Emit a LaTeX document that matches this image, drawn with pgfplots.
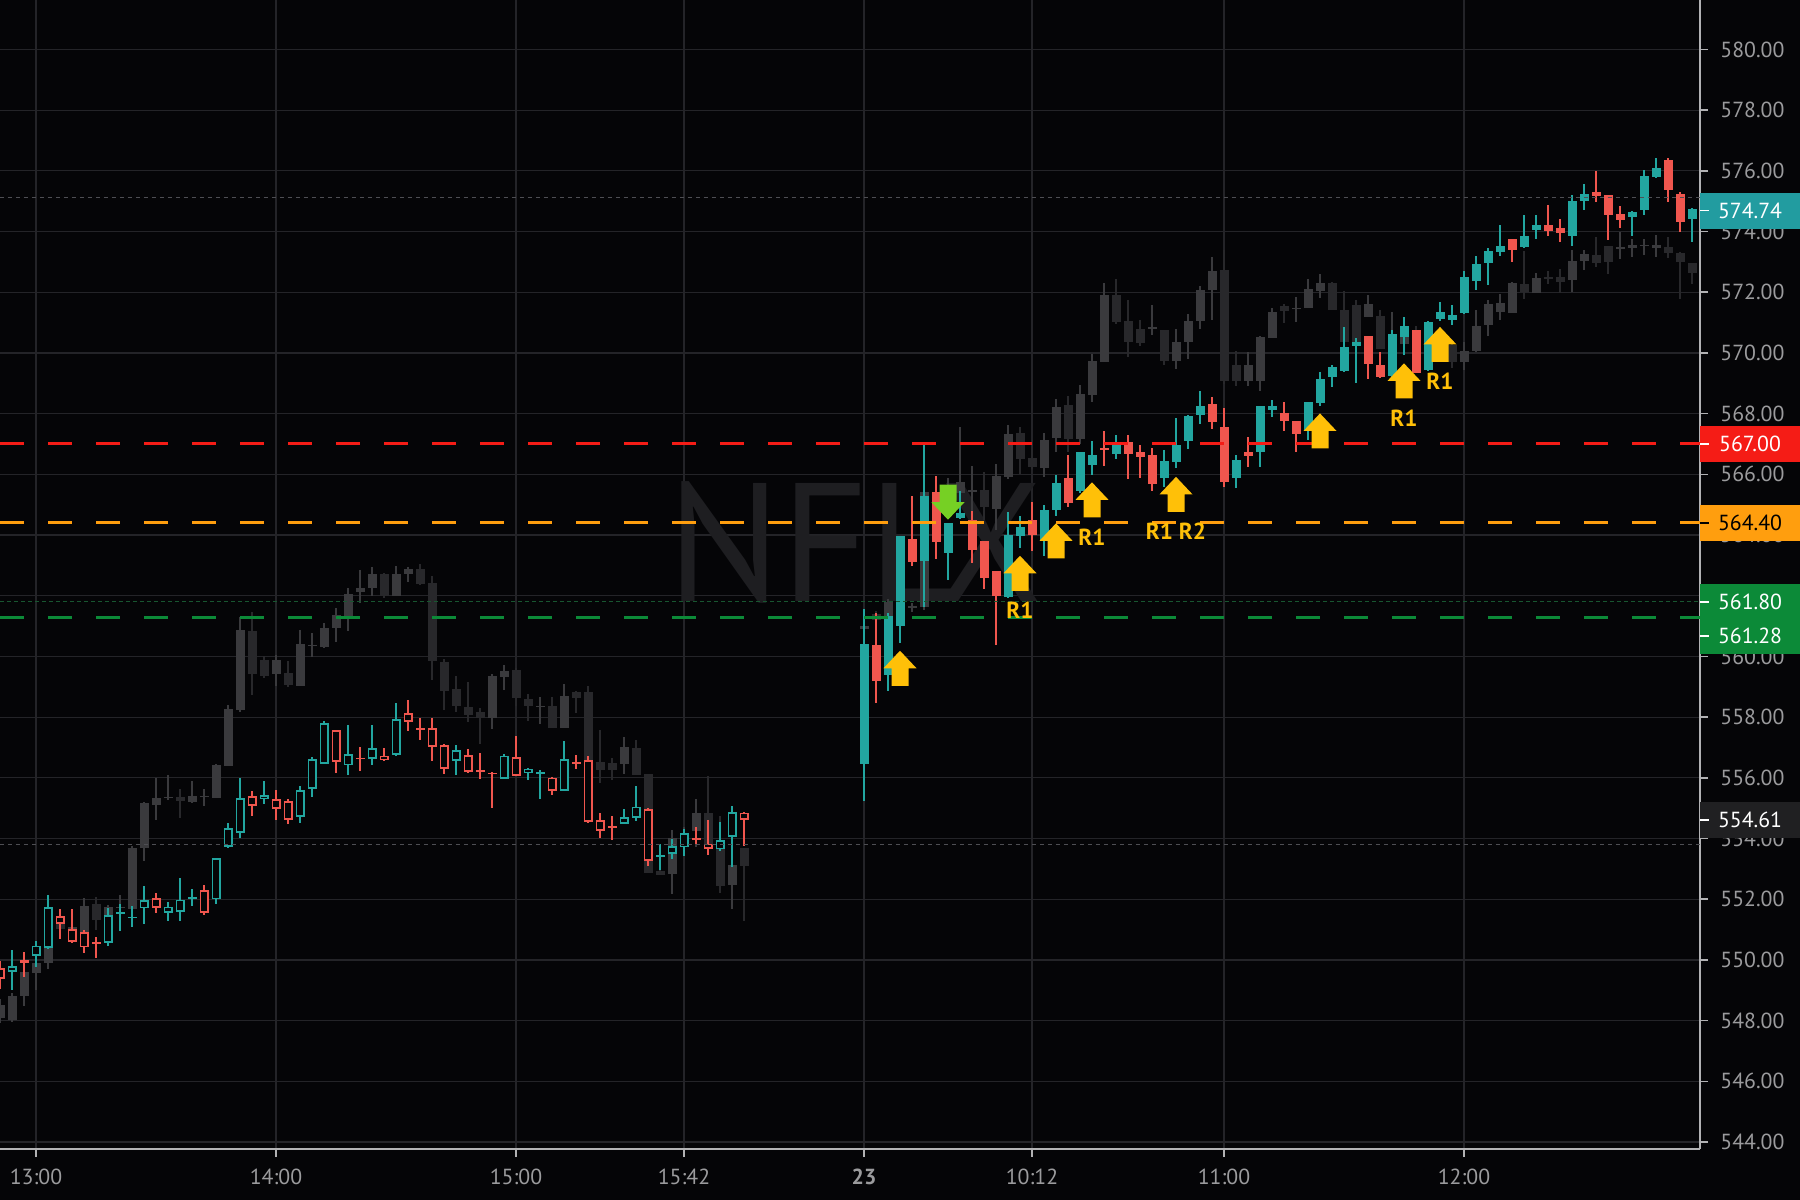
\documentclass[border=0pt]{standalone}
\usepackage{pgfplots}
\usepackage{pgfplotstable}
\usepackage{fontspec}
\pgfplotsset{compat=1.18}
\setmainfont{PT Sans}
\setsansfont{PT Sans}

\definecolor{bg}{RGB}{5,5,7}
\definecolor{gridc}{RGB}{36,36,40}
\definecolor{axc}{RGB}{178,178,180}
\definecolor{tickc}{RGB}{155,155,157}
\definecolor{upc}{RGB}{34,166,160}
\definecolor{dnc}{RGB}{240,86,78}
\definecolor{gup}{RGB}{58,58,61}
\definecolor{gdn}{RGB}{40,40,43}
\definecolor{redl}{RGB}{245,28,22}
\definecolor{orl}{RGB}{255,158,14}
\definecolor{grl}{RGB}{12,138,56}
\definecolor{grdot}{RGB}{24,86,48}
\definecolor{dotc}{RGB}{78,78,83}
\definecolor{gold}{RGB}{255,192,8}
\definecolor{lime}{RGB}{118,208,36}
\definecolor{wm}{RGB}{30,30,33}
\definecolor{tealbox}{RGB}{34,156,160}
\definecolor{lastbox}{RGB}{32,32,34}

\newcommand\labfont{\fontsize{6.2}{7}\selectfont}

\pgfdeclareplotmark{nothing}{}
\pgfdeclareplotmark{uparr}{%
  \pgfpathmoveto{\pgfpoint{-0.85mm}{-1.75mm}}
  \pgfpathlineto{\pgfpoint{0.85mm}{-1.75mm}}
  \pgfpathlineto{\pgfpoint{0.85mm}{0mm}}
  \pgfpathlineto{\pgfpoint{1.65mm}{0mm}}
  \pgfpathlineto{\pgfpoint{0mm}{1.75mm}}
  \pgfpathlineto{\pgfpoint{-1.65mm}{0mm}}
  \pgfpathlineto{\pgfpoint{-0.85mm}{0mm}}
  \pgfpathclose
  \pgfusepathqfill}
\pgfdeclareplotmark{dnarr}{%
  \pgfpathmoveto{\pgfpoint{-0.85mm}{1.75mm}}
  \pgfpathlineto{\pgfpoint{0.85mm}{1.75mm}}
  \pgfpathlineto{\pgfpoint{0.85mm}{0mm}}
  \pgfpathlineto{\pgfpoint{1.65mm}{0mm}}
  \pgfpathlineto{\pgfpoint{0mm}{-1.75mm}}
  \pgfpathlineto{\pgfpoint{-1.65mm}{0mm}}
  \pgfpathlineto{\pgfpoint{-0.85mm}{0mm}}
  \pgfpathclose
  \pgfusepathqfill}

% candles are drawn as error bars: a thin one for the wick, a wide one for the body
\pgfplotsset{
  isup/.style={restrict expr to domain={\thisrow{c}-\thisrow{o}}{0.005:100}},
  isdn/.style={restrict expr to domain={\thisrow{c}-\thisrow{o}}{-100:0.005}},
  cbar/.style 2 args={only marks, mark=nothing,
    error bars/.cd, y dir=both, y explicit, error mark=none,
    error bar style={line width=#2, #1}},
}
\newcommand\wick[3]{\addplot[#2, cbar={#3}{0.15mm}] table[x=x,
  y expr={(\thisrow{h}+\thisrow{l})/2}, y error expr={(\thisrow{h}-\thisrow{l})/2}] {#1};}
\newcommand\body[3]{\addplot[#2, cbar={#3}{0.9mm}] table[x=x,
  y expr={(\thisrow{o}+\thisrow{c})/2}, y error expr={max(abs(\thisrow{c}-\thisrow{o})/2,0.018)}] {#1};}
\newcommand\hole[2]{\addplot[#2, cbar={bg}{0.54mm}] table[x=x,
  y expr={(\thisrow{o}+\thisrow{c})/2}, y error expr={max(abs(\thisrow{c}-\thisrow{o})/2-0.06,0)}] {#1};}

% session 1, coloured (hollow)
\pgfplotstableread{
x o h l c
-3 549.74 549.97 549.05 549.39
-2 549.60 550.32 549.02 549.80
-1 550.00 550.24 549.43 549.89
0 550.12 550.64 549.77 550.47
1 550.41 552.16 550.35 551.76
2 551.45 551.68 550.70 551.19
3 551.02 551.68 550.56 550.58
4 550.91 550.99 550.24 550.41
5 550.60 550.76 550.06 550.56
6 550.56 551.74 550.49 551.48
7 551.54 551.85 550.95 551.58
8 551.40 551.80 551.10 551.44
9 551.70 552.43 551.18 551.97
10 552.05 552.22 551.56 551.71
11 551.56 551.91 551.30 551.77
12 551.60 552.72 551.30 552.00
13 552.03 552.34 551.80 552.07
14 552.31 552.49 551.50 551.56
15 552.00 553.38 551.87 553.35
16 553.73 554.53 553.70 554.36
17 554.20 555.98 554.01 555.34
18 555.40 555.55 554.74 555.09
19 555.29 555.89 555.14 555.43
20 555.29 555.59 554.62 554.97
21 555.24 555.30 554.48 554.62
22 554.70 555.72 554.51 555.60
23 555.64 556.67 555.37 556.62
24 556.47 557.89 556.45 557.82
25 557.57 557.60 556.16 556.53
26 556.41 557.74 556.10 556.79
27 556.67 557.01 556.21 556.62
28 556.61 557.74 556.44 556.99
29 556.74 556.99 556.56 556.59
30 556.76 558.46 556.74 557.95
31 558.14 558.57 557.55 557.85
32 557.65 557.97 557.25 557.61
33 557.64 557.97 556.55 557.04
34 557.08 557.10 556.12 556.31
35 556.56 557.08 556.10 556.92
36 556.76 556.95 556.18 556.20
37 556.25 556.82 555.96 556.22
38 556.17 556.19 555.00 556.15
39 555.98 556.78 555.96 556.75
40 556.67 557.39 556.05 556.07
41 556.18 556.33 555.93 556.31
42 556.17 556.26 555.30 556.19
43 556.02 556.04 555.44 555.58
44 555.58 557.22 555.56 556.64
45 556.51 556.78 556.31 556.49
46 556.59 556.73 554.51 554.57
47 554.62 554.86 554.04 554.26
48 554.40 554.75 553.98 554.39
49 554.50 554.97 554.48 554.72
50 554.70 555.74 554.57 555.06
51 554.97 555.02 553.11 553.25
52 553.43 553.82 552.99 553.45
53 553.49 553.98 553.32 553.76
54 553.71 554.31 553.43 554.17
55 554.01 554.37 553.82 553.99
56 553.84 554.61 553.47 553.65
57 553.65 554.55 553.60 553.95
58 554.06 555.08 553.07 554.86
59 554.86 554.88 553.76 554.61
}\colA

% session 2, coloured (filled)
\pgfplotstableread{
x o h l c
69 556.47 561.55 555.24 560.42
70 560.37 561.44 558.47 559.19
71 559.38 561.44 558.86 561.35
72 561.00 563.97 560.45 563.97
73 563.86 565.29 563.00 563.11
74 563.14 566.96 561.63 565.29
75 565.42 565.93 563.22 563.77
76 563.42 564.40 562.54 564.40
77 564.57 565.47 564.55 564.73
78 564.51 564.81 563.08 563.50
79 563.80 563.80 562.23 562.60
80 562.82 562.82 560.39 562.00
81 561.96 564.76 561.94 563.99
82 563.97 564.65 563.58 564.27
83 564.49 565.09 563.47 563.99
84 563.83 565.01 563.33 564.81
85 564.84 565.99 564.65 565.72
86 565.88 566.63 564.92 565.06
87 565.44 566.74 565.40 566.74
88 566.33 567.10 565.97 566.66
89 566.87 567.45 566.30 566.82
90 566.69 567.29 566.52 567.02
91 567.06 567.30 565.84 566.67
92 566.73 566.97 565.90 566.59
93 566.64 566.86 565.47 565.68
94 565.90 566.80 565.58 566.44
95 566.42 567.85 566.20 566.97
96 567.11 567.96 566.86 567.93
97 567.94 568.76 567.68 568.26
98 568.32 568.54 567.49 567.72
99 567.55 568.18 565.60 565.74
100 565.90 566.64 565.54 566.48
101 566.75 567.24 566.26 566.59
102 566.72 568.26 566.26 568.26
103 568.12 568.45 567.88 568.26
104 568.04 568.40 567.43 567.77
105 567.76 567.76 566.75 567.33
106 567.46 568.40 567.13 568.40
107 568.34 569.39 568.26 569.13
108 569.20 569.61 568.89 569.55
109 569.39 570.87 569.37 570.21
110 570.24 570.51 569.00 570.37
111 570.56 570.56 569.17 569.64
112 569.61 570.01 569.18 569.20
113 569.24 570.78 569.22 570.65
114 570.54 571.20 569.94 570.89
115 570.76 570.76 569.33 569.35
116 569.45 571.05 569.40 571.03
117 571.13 571.69 571.05 571.37
118 571.09 571.58 570.92 571.25
119 571.33 572.70 571.30 572.51
120 572.38 573.19 572.07 572.93
121 572.97 573.48 572.24 573.36
122 573.34 574.21 573.19 573.52
123 573.77 573.77 573.01 573.41
124 573.50 574.54 573.48 573.86
125 574.07 574.54 573.75 574.23
126 574.21 574.87 573.85 574.03
127 574.10 574.43 573.67 573.94
128 573.85 575.22 573.55 575.00
129 575.01 575.58 574.73 575.25
130 575.31 575.99 574.98 575.17
131 575.20 575.20 573.74 574.54
132 574.58 574.84 574.14 574.40
133 574.49 574.67 573.86 574.65
134 574.71 576.04 574.54 575.86
135 575.80 576.44 575.78 576.11
136 576.35 576.44 574.98 575.36
137 575.23 575.31 573.99 574.32
138 574.41 574.78 573.67 574.74
}\colB

% grey comparison series
\pgfplotstableread{
x o h l c
-3 548.10 548.73 547.92 548.50
-2 548.02 548.91 547.98 548.83
-1 548.79 549.66 548.50 549.60
0 549.60 550.12 549.02 549.91
1 549.91 551.33 549.72 551.20
2 551.39 551.50 550.90 551.00
3 551.00 551.30 550.85 551.10
4 550.87 552.06 550.81 551.79
5 551.85 552.08 550.99 551.33
6 551.30 551.80 551.20 551.74
7 551.72 552.14 551.45 551.76
8 551.68 553.76 551.62 553.70
9 553.70 555.20 553.26 555.17
10 555.12 556.01 554.64 555.34
11 555.35 556.10 555.26 555.39
12 555.37 555.64 554.68 555.23
13 555.20 555.89 555.18 555.41
14 555.39 555.64 555.09 555.41
15 555.35 556.47 555.35 556.41
16 556.39 558.40 556.39 558.28
17 558.24 561.32 558.18 560.88
18 560.84 561.46 558.75 559.42
19 559.88 560.02 559.30 559.36
20 559.42 560.05 559.03 559.88
21 559.45 559.88 559.01 559.05
22 559.05 560.88 559.05 560.42
23 560.36 560.77 559.99 560.38
24 560.30 561.09 560.28 560.95
25 560.95 561.61 560.49 561.38
26 561.36 562.27 560.84 562.07
27 562.11 562.85 561.78 562.25
28 562.27 562.96 561.99 562.71
29 562.71 562.76 561.92 561.99
30 561.99 563.00 561.99 562.73
31 562.71 562.96 562.44 562.88
32 562.88 563.05 562.36 562.38
33 562.42 562.65 559.22 559.84
34 559.83 559.93 558.26 558.88
35 558.93 559.37 558.16 558.38
36 558.35 559.15 557.83 558.10
37 558.18 558.32 557.11 557.99
38 557.97 559.42 557.63 559.37
39 559.31 559.73 558.89 559.53
40 559.56 559.64 558.38 558.63
41 558.60 558.79 557.90 558.38
42 558.34 558.68 557.79 558.36
43 558.38 558.67 557.66 557.66
44 557.66 559.11 557.66 558.70
45 558.84 558.87 558.16 558.65
46 558.84 559.04 556.57 556.57
47 556.51 557.57 555.85 556.26
48 556.49 556.65 555.94 556.27
49 556.46 557.36 556.13 557.02
50 556.98 557.25 556.10 556.10
51 556.13 556.13 552.89 552.89
52 552.92 553.82 552.81 552.81
53 552.83 554.28 552.19 554.02
54 553.98 554.39 553.98 554.17
55 554.26 555.30 553.71 554.84
56 554.84 556.07 553.71 553.71
57 553.71 554.75 552.19 552.45
58 552.47 553.13 551.68 553.13
59 553.71 553.71 551.29 553.10
69 560.90 561.20 560.80 561.00
70 561.41 561.50 561.10 561.19
71 561.00 561.90 560.90 561.80
72 561.80 562.20 561.60 562.10
73 561.60 561.75 561.45 561.66
74 561.64 565.81 561.55 565.42
75 565.42 565.60 565.10 565.30
76 565.30 565.90 565.20 565.45
77 565.40 567.56 565.30 565.75
78 565.45 566.30 564.49 565.50
79 565.48 566.08 564.49 564.93
80 564.88 566.36 564.16 565.97
81 565.92 567.62 565.86 567.32
82 567.35 567.57 566.03 566.52
83 566.56 567.13 566.19 566.27
84 566.23 567.35 565.92 567.13
85 567.21 568.50 566.74 568.23
86 568.28 568.60 566.74 567.18
87 567.18 568.94 567.00 568.64
88 568.61 569.98 568.39 569.73
89 569.71 572.32 569.71 571.90
90 571.90 572.45 570.97 571.03
91 571.05 571.76 569.87 570.37
92 570.81 571.09 570.23 570.33
93 570.82 571.58 570.59 570.84
94 570.77 570.77 569.60 569.76
95 569.74 570.80 569.49 570.39
96 570.37 571.28 569.79 571.05
97 571.06 572.20 570.80 572.09
98 572.10 573.17 571.09 572.73
99 572.76 573.39 568.99 569.08
100 569.60 570.09 568.94 569.08
101 569.08 570.05 568.90 569.60
102 569.08 570.56 568.75 570.51
103 570.51 571.50 570.51 571.35
104 571.54 571.61 570.99 571.39
105 571.45 571.87 571.04 571.50
106 571.47 572.42 571.47 572.10
107 572.06 572.60 571.83 572.30
108 572.30 572.36 571.42 571.42
109 571.44 572.04 570.37 570.37
110 571.58 571.75 570.32 570.37
111 571.20 571.91 571.20 571.62
112 571.22 571.42 570.15 570.15
113 570.20 571.36 569.88 570.40
114 570.30 570.80 570.00 570.54
115 570.54 570.90 569.80 569.90
116 569.90 570.40 569.50 570.20
117 570.20 570.80 570.00 570.50
118 570.27 570.40 569.50 569.72
119 569.72 570.38 569.44 570.07
120 570.05 571.42 570.05 570.89
121 570.92 571.77 570.56 571.61
122 571.36 571.96 571.09 571.64
123 571.33 572.35 571.33 572.32
124 572.29 573.36 571.77 572.02
125 571.97 572.64 571.97 572.49
126 572.49 572.71 572.27 572.49
127 572.49 572.79 571.97 572.35
128 572.40 573.39 572.02 573.04
129 573.04 573.39 572.73 573.25
130 573.25 573.83 572.86 572.97
131 573.52 573.52 572.62 573.01
132 573.46 573.99 573.11 573.48
133 573.48 573.77 573.17 573.58
134 573.55 573.77 573.22 573.56
135 573.48 573.88 573.17 573.58
136 573.48 573.81 573.12 573.28
137 573.31 573.31 571.77 573.01
138 572.97 572.97 572.27 572.65
}\grayd

\newcommand\pricebox[4]{%
  \fill[#2] ([yshift=-1.8mm]#1) rectangle ([xshift=10mm,yshift=1.8mm]#1);
  \draw[#3, line width=0.15mm] (#1) -- ([xshift=0.9mm]#1);
  \node[text=#3, font=\labfont] at ([xshift=5mm]#1) {#4};
}

\begin{document}
\begin{tikzpicture}
\path[use as bounding box, fill=bg] (0,-5.1mm) rectangle (180mm,114.9mm);
\begin{axis}[
  at={(0,0)}, anchor=south west,
  x=1.2mm, y=3.035mm,
  xmin=-3, xmax=138.67, ymin=543.77, ymax=581.62,
  axis x line*=bottom, axis y line*=right,
  axis line style={axc, line width=0.2mm},
  tick align=outside, major tick length=0.8mm,
  tick style={axc, line width=0.15mm},
  grid=major, major grid style={gridc, line width=0.12mm},
  xtick={0,20,40,54,69,83,99,119},
  xticklabels={13:00,14:00,15:00,15:42,\textbf{23},10:12,11:00,12:00},
  ytick={544,546,...,580},
  yticklabels={544.00,546.00,548.00,550.00,552.00,554.00,556.00,558.00,560.00,
    {},564.00,566.00,568.00,570.00,572.00,574.00,576.00,578.00,580.00},
  tick label style={font=\labfont, text=tickc},
]
\node[text=wm, font=\fontsize{48}{48}\selectfont] at (axis cs:68.25,563.77) {NFLX};

\wick{\grayd}{isup}{gup}
\wick{\grayd}{isdn}{gdn}
\body{\grayd}{isup}{gup}
\body{\grayd}{isdn}{gdn}

\wick{\colA}{isup}{upc}
\wick{\colA}{isdn}{dnc}
\body{\colA}{isup}{upc}
\body{\colA}{isdn}{dnc}
\hole{\colA}{isup}
\hole{\colA}{isdn}

\wick{\colB}{isup}{upc}
\wick{\colB}{isdn}{dnc}
\body{\colB}{isup}{upc}
\body{\colB}{isdn}{dnc}

\addplot[grdot, line width=0.12mm, dash pattern=on 0.35mm off 0.35mm] coordinates {(-3,561.80) (138.67,561.80)};
\addplot[dotc, line width=0.12mm, dash pattern=on 0.4mm off 0.4mm] coordinates {(-3,575.12) (138.67,575.12)};
\addplot[dotc, line width=0.12mm, dash pattern=on 0.4mm off 0.4mm] coordinates {(-3,553.80) (138.67,553.80)};
\addplot[redl, line width=0.3mm, dash pattern=on 2.4mm off 2.4mm] coordinates {(-3,567) (138.67,567)};
\addplot[orl, line width=0.3mm, dash pattern=on 2.4mm off 2.4mm] coordinates {(-3,564.40) (138.67,564.40)};
\addplot[grl, line width=0.3mm, dash pattern=on 2.4mm off 2.4mm] coordinates {(-3,561.28) (138.67,561.28)};

\addplot[only marks, mark=uparr, gold, point meta=explicit symbolic, nodes near coords,
  every node near coord/.style={anchor=center, yshift=-3.7mm, text=gold,
    font=\fontsize{6.6}{7}\selectfont\bfseries}]
  coordinates {(82,562.74) [R1] (88,565.16) [R1] (95,565.34) [R1 R2] (114,569.08) [R1] (117,570.28) [R1]};
\addplot[only marks, mark=uparr, gold] coordinates {(72,559.61) (85,563.81) (107,567.43)};
\addplot[only marks, mark=dnarr, lime] coordinates {(76,565.08)};

\coordinate (P1) at (axis cs:138.67,574.69);
\coordinate (P2) at (axis cs:138.67,567.00);
\coordinate (P3) at (axis cs:138.67,564.40);
\coordinate (P4) at (axis cs:138.67,554.61);
\coordinate (G1) at (axis cs:138.67,562.38);
\coordinate (G2) at (axis cs:138.67,560.09);
\coordinate (G3) at (axis cs:138.67,561.80);
\coordinate (G4) at (axis cs:138.67,560.67);
\end{axis}
\pricebox{P1}{tealbox}{white}{574.74}
\pricebox{P2}{redl}{white}{567.00}
\pricebox{P3}{orl}{black}{564.40}
\pricebox{P4}{lastbox}{white}{554.61}
\fill[grl] (G1) rectangle ([xshift=10mm]G2);
\draw[white, line width=0.15mm] (G3) -- ([xshift=0.9mm]G3);
\draw[white, line width=0.15mm] (G4) -- ([xshift=0.9mm]G4);
\node[text=white, font=\labfont] at ([xshift=5mm]G3) {561.80};
\node[text=white, font=\labfont] at ([xshift=5mm]G4) {561.28};
\end{tikzpicture}
\end{document}
